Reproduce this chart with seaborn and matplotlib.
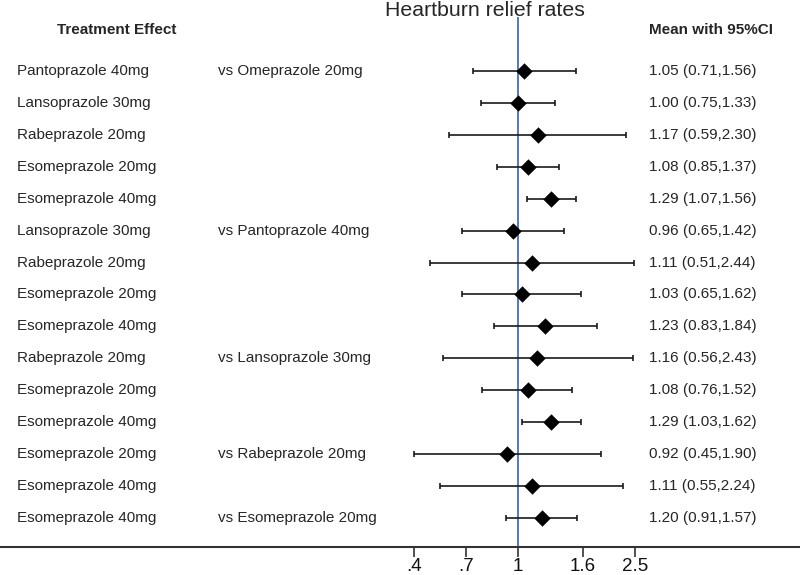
import numpy as np
import pandas as pd
import matplotlib
matplotlib.use("Agg")
import matplotlib.pyplot as plt
import seaborn as sns

# data
treatments = [
    "Pantoprazole 40mg", "Lansoprazole 30mg", "Rabeprazole 20mg",
    "Esomeprazole 20mg", "Esomeprazole 40mg", "Lansoprazole 30mg",
    "Rabeprazole 20mg", "Esomeprazole 20mg", "Esomeprazole 40mg",
    "Rabeprazole 20mg", "Esomeprazole 20mg", "Esomeprazole 40mg",
    "Esomeprazole 20mg", "Esomeprazole 40mg", "Esomeprazole 40mg",
]
comparators = [
    "vs Omeprazole 20mg", "", "", "", "",
    "vs Pantoprazole 40mg", "", "", "",
    "vs Lansoprazole 30mg", "", "",
    "vs Rabeprazole 20mg", "",
    "vs Esomeprazole 20mg",
]
means = [1.05, 1.00, 1.17, 1.08, 1.29, 0.96, 1.11, 1.03, 1.23, 1.16, 1.08, 1.29, 0.92, 1.11, 1.20]
lower = [0.71, 0.75, 0.59, 0.85, 1.07, 0.65, 0.51, 0.65, 0.83, 0.56, 0.76, 1.03, 0.45, 0.55, 0.91]
upper = [1.56, 1.33, 2.30, 1.37, 1.56, 1.42, 2.44, 1.62, 1.84, 2.43, 1.52, 1.62, 1.90, 2.24, 1.57]

tick_values = [0.449, 0.670, 1.0, 1.649, 2.460]
tick_labels = [".4", ".7", "1", "1.6", "2.5"]

df = pd.DataFrame({
    "treatment": treatments,
    "comparator": comparators,
    "mean": means,
    "lower": lower,
    "upper": upper,
})
df["row"] = np.arange(len(df))
df["label"] = [f"{m:.2f} ({l:.2f},{u:.2f})" for m, l, u in zip(df["mean"], df["lower"], df["upper"])]

sns.set_theme(style="white")
plt.rcParams["font.family"] = ["Liberation Sans", "DejaVu Sans"]

fig = plt.figure(figsize=(8, 5.75), dpi=100)
# axes spans the full width, bottom spine is the x axis line
ax = fig.add_axes([0, 28 / 575, 1, 530 / 575])

ax.axvline(1, color="#4a6cc0", lw=1.3, zorder=1)

ax.errorbar(
    df["mean"], df["row"],
    xerr=[df["mean"] - df["lower"], df["upper"] - df["mean"]],
    fmt="none", ecolor="#1a1a1a", elinewidth=1.2, capsize=2.4, capthick=1.2, zorder=2,
)
sns.scatterplot(
    data=df, x="mean", y="row", marker="D", s=70, color="black",
    edgecolor="black", linewidth=0, ax=ax, zorder=3, legend=False,
)

ax.set_xscale("log")
ax.set_xlim(np.exp(-518 / 130), np.exp(282 / 130))
ax.set_ylim(14.91, -1.69)

trans = ax.get_yaxis_transform()
fs = 11
for _, r in df.iterrows():
    ax.text(17 / 800, r["row"], r["treatment"], transform=trans, fontsize=fs, va="center", ha="left")
    if r["comparator"]:
        ax.text(218 / 800, r["row"], r["comparator"], transform=trans, fontsize=fs, va="center", ha="left")
    ax.text(649 / 800, r["row"], r["label"], transform=trans, fontsize=fs, va="center", ha="left")

ax.text(117 / 800, -1.28, "Treatment Effect", transform=trans, fontsize=fs, fontweight="bold", va="center", ha="center")
ax.text(649 / 800, -1.28, "Mean with 95%CI", transform=trans, fontsize=fs, fontweight="bold", va="center", ha="left")

fig.text(485 / 800, 1 - 10 / 575, "Heartburn relief rates", fontsize=15.3, ha="center", va="center")

ax.set_xticks(tick_values)
ax.set_xticklabels(tick_labels)
ax.xaxis.set_minor_locator(matplotlib.ticker.NullLocator())
ax.tick_params(axis="x", direction="out", length=7, width=1.2, color="#333333",
               labelsize=13.5, labelcolor="#111111", pad=1, bottom=True)
ax.set_yticks([])
ax.set_xlabel("")
ax.set_ylabel("")
for side in ["top", "left", "right"]:
    ax.spines[side].set_visible(False)
ax.spines["bottom"].set_color("#333333")
ax.spines["bottom"].set_linewidth(1.5)
ax.patch.set_alpha(0)

fig.savefig("out.png", dpi=100)
